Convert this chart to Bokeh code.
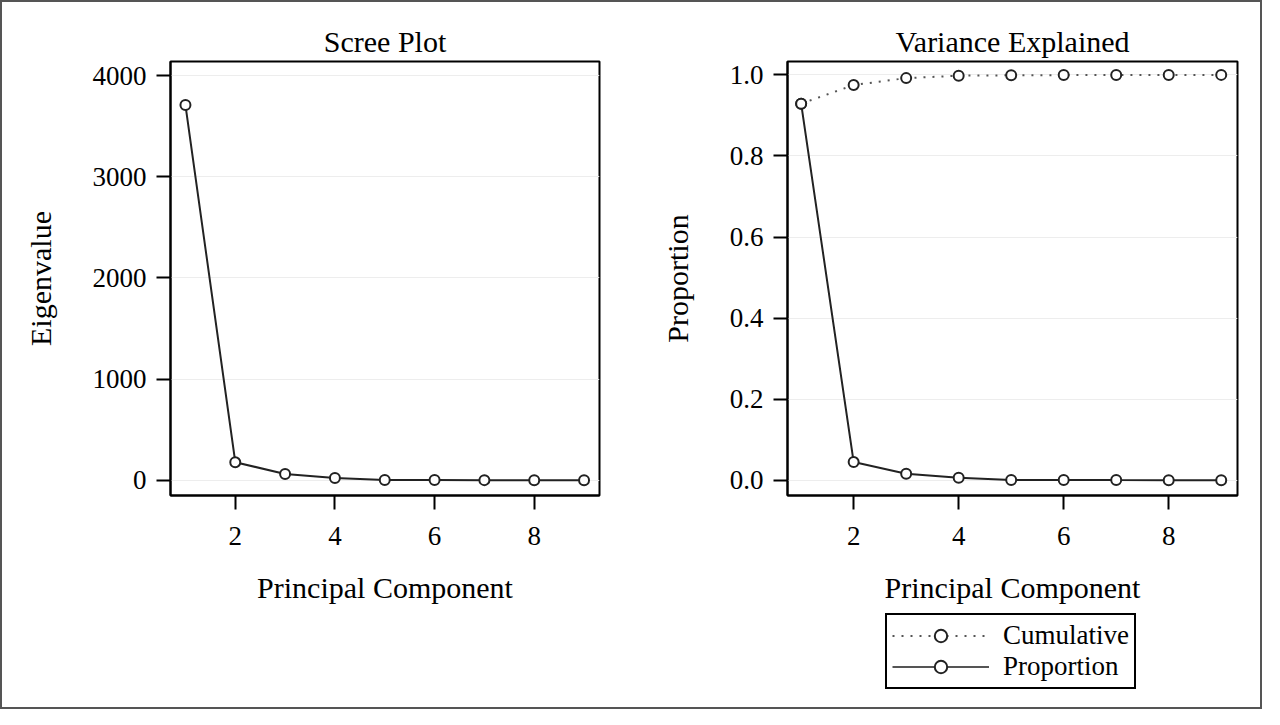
from bokeh.plotting import figure
from bokeh.layouts import row, column
from bokeh.models import FixedTicker, NumeralTickFormatter, Legend, LegendItem, Range1d
from bokeh.embed import file_html
from bokeh.resources import INLINE

# values
components = [1, 2, 3, 4, 5, 6, 7, 8, 9]
eigenvalues = [3710, 178, 62, 23, 3, 2, 1, 0.5, 0.2]
proportion = [0.929, 0.045, 0.016, 0.006, 0.001, 0.0008, 0.0005, 0.0003, 0.0001]
cumulative = [0.929, 0.975, 0.992, 0.998, 0.999, 0.9995, 0.9997, 0.9999, 1.0]
x_ticks = [2, 4, 6, 8]
eigen_ticks = [0, 1000, 2000, 3000, 4000]
prop_ticks = [0.0, 0.2, 0.4, 0.6, 0.8, 1.0]

FONT = "Liberation Serif"
INK = "#222222"
DOTS = "#555555"


def style(p, yticks):
    p.title.text_font = FONT
    p.title.text_font_size = "30px"
    p.title.text_font_style = "normal"
    p.title.text_color = "black"
    p.title.align = "center"
    p.title.offset = 0
    p.title.standoff = 7
    p.outline_line_color = "black"
    p.outline_line_width = 2
    p.xgrid.visible = False
    p.ygrid.grid_line_color = "#ededed"
    p.ygrid.grid_line_width = 1
    p.xaxis.ticker = FixedTicker(ticks=x_ticks)
    p.yaxis.ticker = FixedTicker(ticks=yticks)
    for ax in (p.xaxis, p.yaxis):
        ax.axis_line_color = "black"
        ax.axis_line_width = 2
        ax.major_tick_in = 0
        ax.major_tick_out = 14
        ax.major_tick_line_width = 2
        ax.minor_tick_line_color = None
        ax.major_label_text_font = FONT
        ax.major_label_text_font_size = "27px"
        ax.major_label_text_color = "black"
        ax.axis_label_text_font = FONT
        ax.axis_label_text_font_size = "30px"
        ax.axis_label_text_font_style = "normal"
        ax.axis_label_text_color = "black"
    p.xaxis.major_label_standoff = 17
    p.xaxis.axis_label_standoff = 23
    p.yaxis.major_label_standoff = 10
    p.yaxis.axis_label_standoff = 33


# scree plot
p1 = figure(width=630, height=705, title="Scree Plot",
            x_range=Range1d(0.70, 9.31), y_range=Range1d(-151, 4141),
            min_border_left=168, min_border_right=33,
            min_border_top=59, min_border_bottom=212,
            x_axis_label="Principal Component", y_axis_label="Eigenvalue",
            output_backend="svg", toolbar_location=None)
style(p1, eigen_ticks)
p1.line(components, eigenvalues, line_color=INK, line_width=2)
p1.scatter(components, eigenvalues, marker="circle", size=10,
           fill_color="white", line_color=INK, line_width=2)

# variance explained
p2 = figure(width=628, height=610, title="Variance Explained",
            x_range=Range1d(0.74, 9.31), y_range=Range1d(-0.0375, 1.033),
            min_border_left=155, min_border_right=23,
            min_border_top=59, min_border_bottom=117,
            x_axis_label="Principal Component", y_axis_label="Proportion",
            output_backend="svg", toolbar_location=None)
style(p2, prop_ticks)
p2.yaxis.formatter = NumeralTickFormatter(format="0.0")
p2.line(components, cumulative, line_color=DOTS, line_width=2, line_dash="2 7")
p2.scatter(components, cumulative, marker="circle", size=10,
           fill_color="white", line_color=INK, line_width=2)
p2.line(components, proportion, line_color=INK, line_width=2)
p2.scatter(components, proportion, marker="circle", size=10,
           fill_color="white", line_color=INK, line_width=2)

# legend strip under the right panel (its sample marks sit off-range)
leg = figure(width=628, height=95, x_range=Range1d(0, 1), y_range=Range1d(0, 1),
             min_border=0, output_backend="svg", toolbar_location=None)
leg.axis.visible = False
leg.grid.visible = False
leg.outline_line_color = None
off = [-10, -11]
kl = leg.line(off, off, line_color=DOTS, line_width=2, line_dash="2 7")
ks = leg.scatter(off, off, marker="circle", size=10, fill_color="white",
                 line_color=INK, line_width=2)
ql = leg.line(off, off, line_color=DOTS, line_width=2)
qs = leg.scatter(off, off, marker="circle", size=10, fill_color="white",
                 line_color=INK, line_width=2)
legend = Legend(items=[LegendItem(label="Cumulative", renderers=[kl, ks]),
                       LegendItem(label="Proportion", renderers=[ql, qs])],
                location=(98, 18), orientation="vertical",
                border_line_color="black", border_line_width=2,
                border_line_alpha=1,
                label_text_font=FONT, label_text_font_size="27px",
                label_text_color="black",
                glyph_width=97, glyph_height=31, label_height=31,
                label_standoff=14, padding=5, spacing=0, margin=0,
                background_fill_alpha=1)
leg.add_layout(legend, "center")

layout = row(p1, column(p2, leg), styles={"border": "2px solid #555555"})

open("out.html", "w").write(file_html(layout, INLINE))
